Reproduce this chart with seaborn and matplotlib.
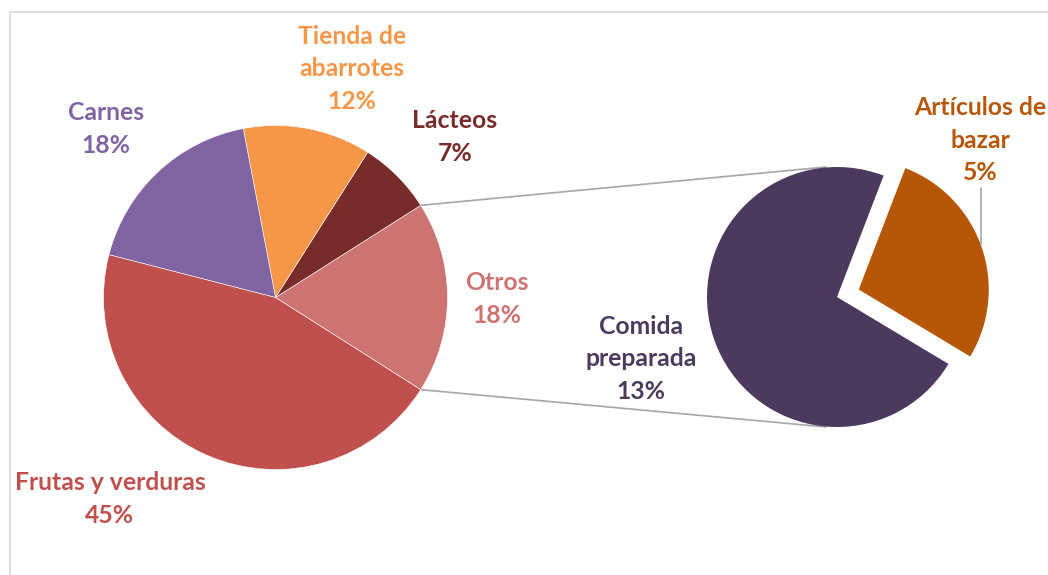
import numpy as np
import matplotlib
matplotlib.use("Agg")
import matplotlib.pyplot as plt
import seaborn as sns
from matplotlib.patches import Rectangle

sns.set_theme(style="white")
plt.rcParams['font.family'] = ['Lato', 'DejaVu Sans']

# ---- data ----
main_labels = ["Otros", "Lácteos", "Tienda de\nabarrotes", "Carnes", "Frutas y verduras"]
main_values = [18, 7, 12, 18, 45]
main_colors = ["#CD7371", "#772C2A", "#F79646", "#8064A2", "#C0504D"]

sub_labels = ["Artículos de\nbazar", "Comida\npreparada"]
sub_values = [5, 13]
sub_colors = ["#B65708", "#4B3A5E"]

W, H = 1048, 575
fig = plt.figure(figsize=(W / 100, H / 100), dpi=100)
ax = fig.add_axes([0, 0, 1, 1])

def Y(y):
    return H - y

# frame
ax.add_patch(Rectangle((10, -20), 1200, Y(12) + 20, fill=False,
                       edgecolor="#D9D9D9", lw=1.2, zorder=0))

# main pie
c1 = (275.5, Y(297.5)); r1 = 172
total = sum(main_values)
start1 = -main_values[0] / total * 180
ax.pie(main_values, colors=main_colors, startangle=start1, counterclock=True,
       center=c1, radius=r1, frame=True,
       wedgeprops=dict(edgecolor="white", linewidth=0.4))

# secondary pie
c2 = (837, Y(297)); r2 = 130
sub_total = sum(sub_values)
art_span = sub_values[0] / sub_total * 360
start2 = 19 - art_span / 2
ax.pie(sub_values, colors=sub_colors, startangle=start2, counterclock=True,
       center=c2, radius=r2, explode=[23, 0], frame=True,
       wedgeprops=dict(edgecolor="none"))

ax.set_xlim(0, W)
ax.set_ylim(0, H)
ax.set_aspect("equal")
ax.axis("off")

# connector lines
a = np.deg2rad(abs(start1))
p_top = (c1[0] + r1 * np.cos(a), c1[1] + r1 * np.sin(a))
p_bot = (c1[0] + r1 * np.cos(a), c1[1] - r1 * np.sin(a))
ax.plot([p_top[0], 826], [p_top[1], Y(167)], color="#A6A6A6", lw=1.2, zorder=0.5)
ax.plot([p_bot[0], 826], [p_bot[1], Y(427)], color="#A6A6A6", lw=1.2, zorder=0.5)

# labels
fs = 17.8
ls = 1.52
def lab(x, y, txt, color):
    ax.text(x, Y(y), txt, color=color, fontsize=fs, fontweight="bold",
            ha="center", va="center", linespacing=ls, multialignment="center")

lab(352, 69, f"{main_labels[2]}\n{main_values[2]}%", main_colors[2])
lab(455, 137, f"{main_labels[1]}\n{main_values[1]}%", main_colors[1])
lab(106, 129, f"{main_labels[3]}\n{main_values[3]}%", main_colors[3])
lab(497, 299, f"{main_labels[0]}\n{main_values[0]}%", main_colors[0])
lab(110, 499, f"{main_labels[4]}\n{main_values[4]}%", main_colors[4])
lab(641, 359, f"{sub_labels[1]}\n{sub_values[1]}%", sub_colors[1])
lab(980, 140, f"{sub_labels[0]}\n{sub_values[0]}%", sub_colors[0])

# leader line for Artículos de bazar
ax.plot([981, 981], [Y(188), Y(245)], color="#A6A6A6", lw=1.2)

fig.savefig("out.png", dpi=100)
